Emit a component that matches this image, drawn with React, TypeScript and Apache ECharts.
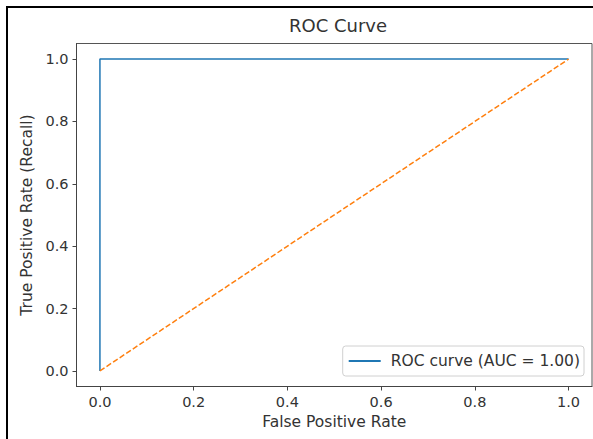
import React, { useEffect, useRef } from "react";
import * as echarts from "echarts";

const rocPoints: [number, number][] = [[0, 0], [0, 1], [1, 1]];
const chancePoints: [number, number][] = [[0, 0], [1, 1]];
const tickValues = [0, 0.2, 0.4, 0.6, 0.8, 1.0];
const titleText = "ROC Curve";
const xName = "False Positive Rate";
const yName = "True Positive Rate (Recall)";
const rocName = "ROC curve (AUC = 1.00)";

const FONT = "'DejaVu Sans', sans-serif";

export default function App() {
  const ref = useRef<HTMLDivElement>(null);
  useEffect(() => {
    if (!ref.current) return;
    const chart = echarts.init(ref.current, undefined, { renderer: "svg" });
    const axisCommon = {
      type: "value" as const,
      min: -0.05,
      max: 1.05,
      splitLine: { show: false },
      axisLine: { show: true, onZero: false, lineStyle: { color: "#444", width: 1 } },
      axisTick: { show: true, inside: false, length: 4, lineStyle: { color: "#444" }, customValues: tickValues },
      axisLabel: {
        customValues: tickValues,
        formatter: (v: number) => v.toFixed(1),
        color: "#333",
        fontFamily: FONT,
        fontSize: 14.5,
      },
      nameLocation: "middle" as const,
      nameTextStyle: { color: "#333", fontFamily: FONT, fontSize: 15.5 },
    };
    chart.setOption({
      animation: false,
      backgroundColor: "#fff",
      title: {
        text: titleText,
        left: 333,
        textAlign: "center",
        top: 11,
        textStyle: { color: "#333", fontFamily: FONT, fontSize: 18, fontWeight: "normal" },
      },
      grid: {
        left: 76.5,
        right: 1,
        top: 43.5,
        bottom: 52.5,
        show: true,
        borderColor: "#555",
        borderWidth: 1,
        containLabel: false,
      },
      xAxis: {
        ...axisCommon,
        name: xName,
        nameGap: 25,
        axisLabel: { ...axisCommon.axisLabel, margin: 8 },
      },
      yAxis: {
        ...axisCommon,
        name: yName,
        nameGap: 41,
        axisLabel: { ...axisCommon.axisLabel, margin: 8 },
      },
      legend: {
        data: [{ name: rocName, icon: "rect" }],
        right: 9,
        bottom: 63,
        orient: "vertical",
        backgroundColor: "#fff",
        borderColor: "#d0d0d0",
        borderWidth: 1,
        borderRadius: 3,
        padding: [7, 4, 7, 6],
        itemWidth: 32,
        itemHeight: 2,
        itemGap: 10,
        textStyle: { color: "#333", fontFamily: FONT, fontSize: 15.5, padding: [0, 0, 0, 5] },
      },
      graphic: [
        { type: "rect", shape: { x: 6, y: 6, width: 593, height: 2 }, style: { fill: "#000" } },
        { type: "rect", shape: { x: 6, y: 6, width: 2, height: 439 }, style: { fill: "#000" } },
      ],
      series: [
        {
          type: "line",
          name: rocName,
          data: rocPoints,
          symbol: "none",
          lineStyle: { color: "#1f77b4", width: 1.5 },
          itemStyle: { color: "#1f77b4" },
        },
        {
          type: "line",
          name: "chance",
          data: chancePoints,
          symbol: "none",
          lineStyle: { color: "#ff7f0e", width: 1.5, type: [5.5, 2.4] },
          itemStyle: { color: "#ff7f0e" },
        },
      ],
    });
    return () => chart.dispose();
  }, []);
  return (
    <div
      ref={ref}
      style={{ position: "absolute", left: 0, top: 0, width: 593, height: 439 }}
    />
  );
}
